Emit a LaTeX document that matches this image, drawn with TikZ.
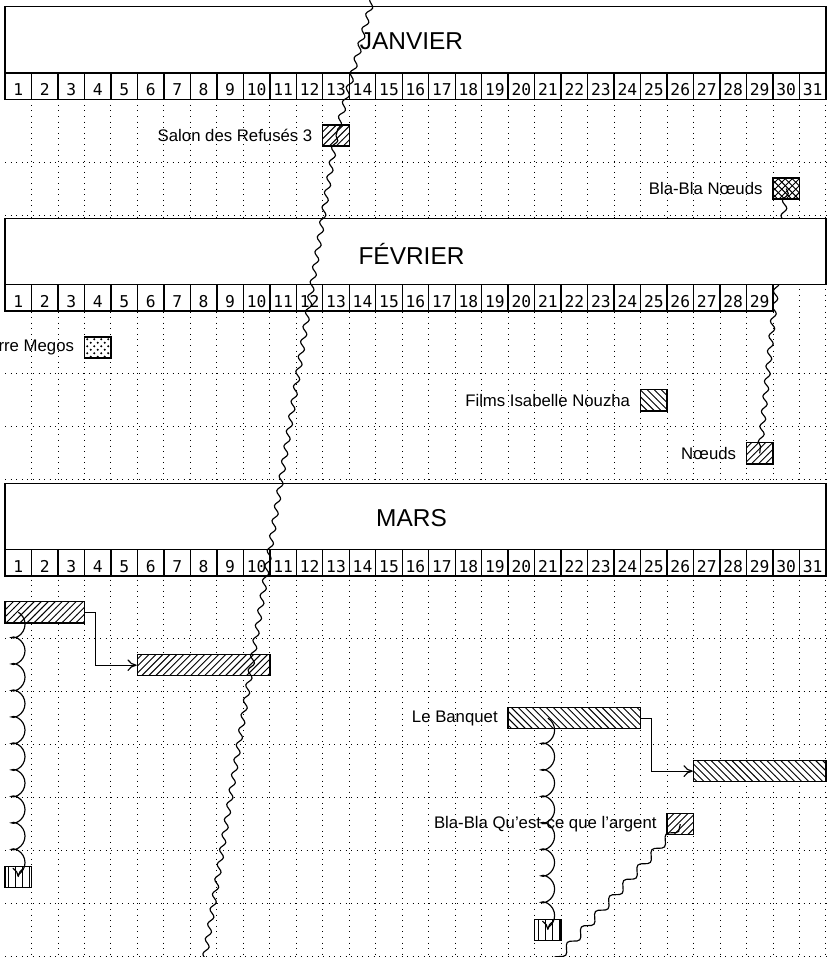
\documentclass[tikz,border=0pt]{standalone}
\usepackage{fontspec}
\setmainfont{Liberation Sans}
\newfontfamily\daymono{DejaVu Sans Mono}
\usetikzlibrary{patterns,decorations.pathmorphing,positioning,arrows.meta}
\begin{document}
\begin{tikzpicture}[x=0.4cm,y=0.4cm,
  gridline/.style={dotted, line width=0.4pt},
  hdrbox/.style={draw, fill=white, line width=0.6pt, minimum width=12.4cm, minimum height=1cm, inner sep=0},
  titletext/.style={font=\fontsize{10.5}{12}\selectfont, inner sep=0},
  daycell/.style={draw, fill=white, line width=0.6pt, minimum size=0.4cm, inner sep=0,
    font=\daymono\fontsize{7}{8}\selectfont, text height=8pt, text depth=0pt},
  taskbox/.style={draw, line width=0.6pt, minimum height=0.32cm, inner sep=0, preaction={fill=white}},
  tasklbl/.style={font=\fontsize{7.2}{8.5}\selectfont, inner sep=0},
  patNE/.style={pattern=north east lines},
  patNW/.style={pattern=north west lines},
  patV/.style={pattern=vertical lines},
  patD/.style={pattern=crosshatch dots},
  patX/.style={pattern=north east lines, postaction={pattern=north west lines}},
  elbowarrow/.style={-{To[length=4pt,width=5pt]}, line width=0.5pt},
  coilarrow/.style={-{To[length=4pt,width=5pt]}, line width=0.5pt, decorate,
    decoration={coil, segment length=0.4cm, amplitude=2.9pt, aspect=0.8}},
  wavyline/.style={line width=0.5pt, decorate, decoration={snake, segment length=6.5pt, amplitude=1.1pt}},
  bigwavyline/.style={line width=0.5pt, decorate, decoration={snake, segment length=9pt, amplitude=1.6pt}},
]
\useasboundingbox (0,0) rectangle (31.307,-36.14);

% dotted grid
\foreach \k in {1,...,31} \draw[gridline] (0.19+\k,-3.75) -- (0.19+\k,-36.4);
\foreach \y in {6.12,8.12,14.12,16.12,18.12,24.12,26.12,28.12,30.12,32.12,34.12,36.12}
  \draw[gridline] (0.19,-\y) -- (31.35,-\y);

% tasks - janvier
\node[taskbox, patNE, minimum width=0.4cm] (salon) at (12.69,-5.12) {};
\node[tasklbl, left=4pt of salon] (salonL) {Salon des Refusés 3};
\node[taskbox, patX, minimum width=0.4cm] (bbn) at (29.69,-7.12) {};
\node[tasklbl, left=4pt of bbn] (bbnL) {Bla-Bla Nœuds};

% tasks - fevrier
\node[taskbox, patD, minimum width=0.4cm] (megos) at (3.69,-13.12) {};
\node[tasklbl, left=4pt of megos] (megosL) {rre Megos};
\node[taskbox, patNW, minimum width=0.4cm] (films) at (24.69,-15.12) {};
\node[tasklbl, left=4pt of films] (filmsL) {Films Isabelle Nouzha};
\node[taskbox, patNE, minimum width=0.4cm] (nds) at (28.69,-17.12) {};
\node[tasklbl, left=4pt of nds] (ndsL) {Nœuds};

% tasks - mars
\node[taskbox, patNE, minimum width=1.2cm] (ma) at (1.69,-23.12) {};
\node[taskbox, patNE, minimum width=2cm] (mb) at (7.69,-25.12) {};
\node[taskbox, patNW, minimum width=2cm] (ban) at (21.69,-27.12) {};
\node[tasklbl, left=4pt of ban] (banL) {Le Banquet};
\node[taskbox, patNW, minimum width=2cm] (md) at (28.69,-29.12) {};
\node[taskbox, patNE, minimum width=0.4cm] (qca) at (25.69,-31.12) {};
\node[tasklbl, left=4pt of qca] (qcaL) {Bla-Bla Qu’est-ce que l’argent};
\node[taskbox, patV, minimum width=0.4cm] (sa) at (0.69,-33.12) {};
\node[taskbox, patV, minimum width=0.4cm] (sb) at (20.69,-35.12) {};

% link under the fevrier header
\draw[wavyline] (bbn.center) -- (nds.center);

% month headers
\node[hdrbox] (janv) at (15.69,-1.5) {};
\node[titletext] (janvT) at (15.54,-1.57) {JANVIER};
\foreach \d in {1,...,31} \node[daycell] (jd\d) at (\d-0.31,-3.25) {\d};

\node[hdrbox] (fevr) at (15.69,-9.5) {};
\node[titletext] (fevrT) at (15.54,-9.57) {FÉVRIER};
\foreach \d in {1,...,29} \node[daycell] (fd\d) at (\d-0.31,-11.25) {\d};

\node[hdrbox] (mars) at (15.69,-19.5) {};
\node[titletext] (marsT) at (15.54,-19.57) {MARS};
\foreach \d in {1,...,31} \node[daycell] (md\d) at (\d-0.31,-21.25) {\d};

% connectors mars
\draw[elbowarrow] (ma.east) -- ++(0.4,0) |- (mb.west);
\draw[elbowarrow] (ban.east) -- ++(0.4,0) |- (md.west);
\draw[coilarrow] (sa |- ma) -- (sa.center);
\draw[coilarrow] (sb |- ban) -- (sb.center);

% long wavy links
\coordinate (upA) at (14.32,1.0);
\coordinate (dnA) at (7.58,-37.14);
\coordinate (dnB) at (20.2,-37.14);
\draw[wavyline] (upA) -- (salon.center);
\draw[wavyline] (salon.center) -- (dnA);
\draw[bigwavyline] (qca.center) -- (dnB);
\end{tikzpicture}
\end{document}
